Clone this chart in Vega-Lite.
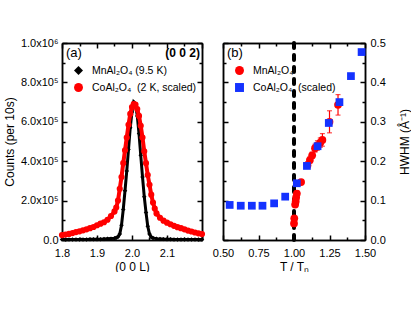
{
  "$schema": "https://vega.github.io/schema/vega-lite/v6.json",
  "padding": {"left": 3, "top": 37, "right": 0, "bottom": 0},
  "spacing": 2,
  "background": "white",
  "datasets": {
    "scan": [
      {"L":1.80,"I":2000,"s":"MnAl₂O₄ (9.5 K)"},{"L":1.81,"I":2000,"s":"MnAl₂O₄ (9.5 K)"},{"L":1.82,"I":2000,"s":"MnAl₂O₄ (9.5 K)"},{"L":1.83,"I":2500,"s":"MnAl₂O₄ (9.5 K)"},{"L":1.84,"I":2500,"s":"MnAl₂O₄ (9.5 K)"},{"L":1.85,"I":3000,"s":"MnAl₂O₄ (9.5 K)"},{"L":1.86,"I":3000,"s":"MnAl₂O₄ (9.5 K)"},{"L":1.87,"I":3000,"s":"MnAl₂O₄ (9.5 K)"},{"L":1.88,"I":3500,"s":"MnAl₂O₄ (9.5 K)"},{"L":1.89,"I":3500,"s":"MnAl₂O₄ (9.5 K)"},{"L":1.90,"I":4000,"s":"MnAl₂O₄ (9.5 K)"},{"L":1.91,"I":4000,"s":"MnAl₂O₄ (9.5 K)"},{"L":1.92,"I":5000,"s":"MnAl₂O₄ (9.5 K)"},{"L":1.93,"I":6000,"s":"MnAl₂O₄ (9.5 K)"},{"L":1.94,"I":7000,"s":"MnAl₂O₄ (9.5 K)"},{"L":1.95,"I":9000,"s":"MnAl₂O₄ (9.5 K)"},{"L":1.955,"I":11000,"s":"MnAl₂O₄ (9.5 K)"},{"L":1.96,"I":16000,"s":"MnAl₂O₄ (9.5 K)"},{"L":1.965,"I":30000,"s":"MnAl₂O₄ (9.5 K)"},{"L":1.97,"I":75000,"s":"MnAl₂O₄ (9.5 K)"},{"L":1.975,"I":155000,"s":"MnAl₂O₄ (9.5 K)"},{"L":1.98,"I":250000,"s":"MnAl₂O₄ (9.5 K)"},{"L":1.985,"I":350000,"s":"MnAl₂O₄ (9.5 K)"},{"L":1.99,"I":460000,"s":"MnAl₂O₄ (9.5 K)"},{"L":1.995,"I":570000,"s":"MnAl₂O₄ (9.5 K)"},{"L":2.00,"I":650000,"s":"MnAl₂O₄ (9.5 K)"},{"L":2.005,"I":700000,"s":"MnAl₂O₄ (9.5 K)"},{"L":2.01,"I":690000,"s":"MnAl₂O₄ (9.5 K)"},{"L":2.015,"I":630000,"s":"MnAl₂O₄ (9.5 K)"},{"L":2.02,"I":540000,"s":"MnAl₂O₄ (9.5 K)"},{"L":2.025,"I":430000,"s":"MnAl₂O₄ (9.5 K)"},{"L":2.03,"I":320000,"s":"MnAl₂O₄ (9.5 K)"},{"L":2.035,"I":220000,"s":"MnAl₂O₄ (9.5 K)"},{"L":2.04,"I":140000,"s":"MnAl₂O₄ (9.5 K)"},{"L":2.045,"I":70000,"s":"MnAl₂O₄ (9.5 K)"},{"L":2.05,"I":30000,"s":"MnAl₂O₄ (9.5 K)"},{"L":2.055,"I":15000,"s":"MnAl₂O₄ (9.5 K)"},{"L":2.06,"I":10000,"s":"MnAl₂O₄ (9.5 K)"},{"L":2.07,"I":7000,"s":"MnAl₂O₄ (9.5 K)"},{"L":2.08,"I":5500,"s":"MnAl₂O₄ (9.5 K)"},{"L":2.09,"I":4500,"s":"MnAl₂O₄ (9.5 K)"},{"L":2.10,"I":4000,"s":"MnAl₂O₄ (9.5 K)"},{"L":2.11,"I":3500,"s":"MnAl₂O₄ (9.5 K)"},{"L":2.12,"I":3000,"s":"MnAl₂O₄ (9.5 K)"},{"L":2.13,"I":3000,"s":"MnAl₂O₄ (9.5 K)"},{"L":2.14,"I":2500,"s":"MnAl₂O₄ (9.5 K)"},{"L":2.15,"I":2500,"s":"MnAl₂O₄ (9.5 K)"},{"L":2.16,"I":2500,"s":"MnAl₂O₄ (9.5 K)"},{"L":2.17,"I":2000,"s":"MnAl₂O₄ (9.5 K)"},{"L":2.18,"I":2000,"s":"MnAl₂O₄ (9.5 K)"},{"L":2.19,"I":2000,"s":"MnAl₂O₄ (9.5 K)"},{"L":2.20,"I":2000,"s":"MnAl₂O₄ (9.5 K)"},
      {"L":1.80,"I":25000,"s":"CoAl₂O₄\u00a0 (2 K, scaled)"},{"L":1.81,"I":28000,"s":"CoAl₂O₄\u00a0 (2 K, scaled)"},{"L":1.82,"I":31000,"s":"CoAl₂O₄\u00a0 (2 K, scaled)"},{"L":1.83,"I":35000,"s":"CoAl₂O₄\u00a0 (2 K, scaled)"},{"L":1.84,"I":40000,"s":"CoAl₂O₄\u00a0 (2 K, scaled)"},{"L":1.85,"I":44000,"s":"CoAl₂O₄\u00a0 (2 K, scaled)"},{"L":1.86,"I":49000,"s":"CoAl₂O₄\u00a0 (2 K, scaled)"},{"L":1.87,"I":54000,"s":"CoAl₂O₄\u00a0 (2 K, scaled)"},{"L":1.88,"I":60000,"s":"CoAl₂O₄\u00a0 (2 K, scaled)"},{"L":1.89,"I":66000,"s":"CoAl₂O₄\u00a0 (2 K, scaled)"},{"L":1.90,"I":75000,"s":"CoAl₂O₄\u00a0 (2 K, scaled)"},{"L":1.91,"I":83000,"s":"CoAl₂O₄\u00a0 (2 K, scaled)"},{"L":1.92,"I":90000,"s":"CoAl₂O₄\u00a0 (2 K, scaled)"},{"L":1.93,"I":103000,"s":"CoAl₂O₄\u00a0 (2 K, scaled)"},{"L":1.94,"I":122000,"s":"CoAl₂O₄\u00a0 (2 K, scaled)"},{"L":1.95,"I":145000,"s":"CoAl₂O₄\u00a0 (2 K, scaled)"},{"L":1.955,"I":165000,"s":"CoAl₂O₄\u00a0 (2 K, scaled)"},{"L":1.96,"I":200000,"s":"CoAl₂O₄\u00a0 (2 K, scaled)"},{"L":1.965,"I":260000,"s":"CoAl₂O₄\u00a0 (2 K, scaled)"},{"L":1.97,"I":320000,"s":"CoAl₂O₄\u00a0 (2 K, scaled)"},{"L":1.975,"I":390000,"s":"CoAl₂O₄\u00a0 (2 K, scaled)"},{"L":1.98,"I":455000,"s":"CoAl₂O₄\u00a0 (2 K, scaled)"},{"L":1.985,"I":520000,"s":"CoAl₂O₄\u00a0 (2 K, scaled)"},{"L":1.99,"I":585000,"s":"CoAl₂O₄\u00a0 (2 K, scaled)"},{"L":1.995,"I":640000,"s":"CoAl₂O₄\u00a0 (2 K, scaled)"},{"L":2.00,"I":675000,"s":"CoAl₂O₄\u00a0 (2 K, scaled)"},{"L":2.005,"I":690000,"s":"CoAl₂O₄\u00a0 (2 K, scaled)"},{"L":2.01,"I":688000,"s":"CoAl₂O₄\u00a0 (2 K, scaled)"},{"L":2.015,"I":665000,"s":"CoAl₂O₄\u00a0 (2 K, scaled)"},{"L":2.02,"I":630000,"s":"CoAl₂O₄\u00a0 (2 K, scaled)"},{"L":2.025,"I":580000,"s":"CoAl₂O₄\u00a0 (2 K, scaled)"},{"L":2.03,"I":520000,"s":"CoAl₂O₄\u00a0 (2 K, scaled)"},{"L":2.035,"I":450000,"s":"CoAl₂O₄\u00a0 (2 K, scaled)"},{"L":2.04,"I":390000,"s":"CoAl₂O₄\u00a0 (2 K, scaled)"},{"L":2.045,"I":330000,"s":"CoAl₂O₄\u00a0 (2 K, scaled)"},{"L":2.05,"I":280000,"s":"CoAl₂O₄\u00a0 (2 K, scaled)"},{"L":2.055,"I":230000,"s":"CoAl₂O₄\u00a0 (2 K, scaled)"},{"L":2.06,"I":190000,"s":"CoAl₂O₄\u00a0 (2 K, scaled)"},{"L":2.065,"I":160000,"s":"CoAl₂O₄\u00a0 (2 K, scaled)"},{"L":2.07,"I":135000,"s":"CoAl₂O₄\u00a0 (2 K, scaled)"},{"L":2.08,"I":113000,"s":"CoAl₂O₄\u00a0 (2 K, scaled)"},{"L":2.09,"I":98000,"s":"CoAl₂O₄\u00a0 (2 K, scaled)"},{"L":2.10,"I":88000,"s":"CoAl₂O₄\u00a0 (2 K, scaled)"},{"L":2.11,"I":80000,"s":"CoAl₂O₄\u00a0 (2 K, scaled)"},{"L":2.12,"I":72000,"s":"CoAl₂O₄\u00a0 (2 K, scaled)"},{"L":2.13,"I":65000,"s":"CoAl₂O₄\u00a0 (2 K, scaled)"},{"L":2.14,"I":60000,"s":"CoAl₂O₄\u00a0 (2 K, scaled)"},{"L":2.15,"I":54000,"s":"CoAl₂O₄\u00a0 (2 K, scaled)"},{"L":2.16,"I":48000,"s":"CoAl₂O₄\u00a0 (2 K, scaled)"},{"L":2.17,"I":43000,"s":"CoAl₂O₄\u00a0 (2 K, scaled)"},{"L":2.18,"I":38000,"s":"CoAl₂O₄\u00a0 (2 K, scaled)"},{"L":2.19,"I":34000,"s":"CoAl₂O₄\u00a0 (2 K, scaled)"},{"L":2.20,"I":30000,"s":"CoAl₂O₄\u00a0 (2 K, scaled)"}
    ],
    "hwhm": [
      {"T":1.000,"H":0.042,"lo":0.038,"hi":0.046,"s":"MnAl₂O₄"},
      {"T":1.002,"H":0.055,"lo":0.051,"hi":0.059,"s":"MnAl₂O₄"},
      {"T":1.008,"H":0.090,"lo":0.085,"hi":0.095,"s":"MnAl₂O₄"},
      {"T":1.012,"H":0.098,"lo":0.093,"hi":0.103,"s":"MnAl₂O₄"},
      {"T":1.015,"H":0.108,"lo":0.103,"hi":0.113,"s":"MnAl₂O₄"},
      {"T":1.020,"H":0.118,"lo":0.112,"hi":0.124,"s":"MnAl₂O₄"},
      {"T":1.050,"H":0.147,"lo":0.141,"hi":0.153,"s":"MnAl₂O₄"},
      {"T":1.095,"H":0.190,"lo":0.182,"hi":0.198,"s":"MnAl₂O₄"},
      {"T":1.112,"H":0.203,"lo":0.195,"hi":0.211,"s":"MnAl₂O₄"},
      {"T":1.128,"H":0.215,"lo":0.207,"hi":0.223,"s":"MnAl₂O₄"},
      {"T":1.148,"H":0.233,"lo":0.223,"hi":0.243,"s":"MnAl₂O₄"},
      {"T":1.165,"H":0.240,"lo":0.228,"hi":0.252,"s":"MnAl₂O₄"},
      {"T":1.185,"H":0.247,"lo":0.235,"hi":0.259,"s":"MnAl₂O₄"},
      {"T":1.200,"H":0.254,"lo":0.238,"hi":0.270,"s":"MnAl₂O₄"},
      {"T":1.250,"H":0.300,"lo":0.272,"hi":0.328,"s":"MnAl₂O₄"},
      {"T":1.310,"H":0.343,"lo":0.317,"hi":0.369,"s":"MnAl₂O₄"},
      {"T":0.547,"H":0.089,"s":"CoAl₂O₄\u00a0 (scaled)"},
      {"T":0.625,"H":0.087,"s":"CoAl₂O₄\u00a0 (scaled)"},
      {"T":0.703,"H":0.087,"s":"CoAl₂O₄\u00a0 (scaled)"},
      {"T":0.778,"H":0.087,"s":"CoAl₂O₄\u00a0 (scaled)"},
      {"T":0.860,"H":0.093,"s":"CoAl₂O₄\u00a0 (scaled)"},
      {"T":0.938,"H":0.110,"s":"CoAl₂O₄\u00a0 (scaled)"},
      {"T":1.020,"H":0.144,"s":"CoAl₂O₄\u00a0 (scaled)"},
      {"T":1.091,"H":0.188,"s":"CoAl₂O₄\u00a0 (scaled)"},
      {"T":1.166,"H":0.238,"s":"CoAl₂O₄\u00a0 (scaled)"},
      {"T":1.245,"H":0.297,"s":"CoAl₂O₄\u00a0 (scaled)"},
      {"T":1.320,"H":0.350,"s":"CoAl₂O₄\u00a0 (scaled)"},
      {"T":1.401,"H":0.416,"s":"CoAl₂O₄\u00a0 (scaled)"},
      {"T":1.476,"H":0.477,"s":"CoAl₂O₄\u00a0 (scaled)"}
    ]
  },
  "hconcat": [
    {
      "width": 140,
      "height": 197,
      "data": {"name": "scan"},
      "layer": [
        {
          "mark": {"type": "point", "opacity": 0},
          "encoding": {
            "x": {"field": "L", "type": "quantitative", "scale": {"domain": [1.8, 2.2], "nice": false, "zero": false},
                  "axis": {"orient": "bottom", "values": [1.8, 1.9, 2.0, 2.1, 2.2], "labelExpr": "datum.value > 2.15 ? '' : format(datum.value, '.1f')", "tickSize": -5, "labelPadding": 12, "title": "(0 0 L)", "titlePadding": 3}},
            "y": {"field": "I", "type": "quantitative", "scale": {"domain": [0, 1000000], "nice": false},
                  "axis": {"orient": "left", "values": [0, 200000, 400000, 600000, 800000, 1000000], "labelExpr": "datum.value == 0 ? '0.0' : (datum.value == 1000000 ? '1.0x10⁶' : format(datum.value / 100000, '.1f') + 'x10⁵')", "tickSize": -5, "labelPadding": 9, "title": "Counts (per 10s)", "titlePadding": 4}}
          }
        },
        {
          "mark": {"type": "point", "opacity": 0},
          "encoding": {
            "x": {"field": "L", "type": "quantitative", "axis": {"orient": "top", "values": [1.8, 1.9, 2.0, 2.1, 2.2], "labels": false, "tickSize": -5, "title": null}},
            "y": {"field": "I", "type": "quantitative", "axis": {"orient": "right", "values": [0, 200000, 400000, 600000, 800000, 1000000], "labels": false, "tickSize": -5, "title": null}}
          }
        },
        {
          "mark": {"type": "point", "opacity": 0},
          "encoding": {
            "x": {"field": "L", "type": "quantitative", "axis": {"orient": "bottom", "values": [1.85, 1.95, 2.05, 2.15], "labels": false, "tickSize": -3, "title": null}},
            "y": {"field": "I", "type": "quantitative", "axis": {"orient": "left", "values": [100000, 300000, 500000, 700000, 900000], "labels": false, "tickSize": -3, "title": null}}
          }
        },
        {
          "mark": {"type": "point", "opacity": 0},
          "encoding": {
            "x": {"field": "L", "type": "quantitative", "axis": {"orient": "top", "values": [1.85, 1.95, 2.05, 2.15], "labels": false, "tickSize": -3, "title": null}},
            "y": {"field": "I", "type": "quantitative", "axis": {"orient": "right", "values": [100000, 300000, 500000, 700000, 900000], "labels": false, "tickSize": -3, "title": null}}
          }
        },
        {
          "transform": [{"filter": "indexof(datum.s, 'Mn') == 0"}],
          "mark": {"type": "line", "color": "black", "strokeWidth": 3},
          "encoding": {
            "x": {"field": "L", "type": "quantitative", "axis": null},
            "y": {"field": "I", "type": "quantitative", "axis": null}
          }
        },
        {
          "transform": [{"filter": "indexof(datum.s, 'Mn') == 0"}],
          "mark": {"type": "point", "filled": true, "size": 20, "opacity": 1},
          "encoding": {
            "x": {"field": "L", "type": "quantitative", "axis": null},
            "y": {"field": "I", "type": "quantitative", "axis": null},
            "color": {"field": "s", "type": "nominal", "scale": {"domain": ["MnAl₂O₄ (9.5 K)", "CoAl₂O₄\u00a0 (2 K, scaled)"], "range": ["black", "#ff0000"]}, "legend": {"title": "(a)", "zindex": 2}},
            "shape": {"field": "s", "type": "nominal", "scale": {"domain": ["MnAl₂O₄ (9.5 K)", "CoAl₂O₄\u00a0 (2 K, scaled)"], "range": ["diamond", "circle"]}, "legend": {"title": "(a)", "zindex": 2}}
          }
        },
        {
          "transform": [{"filter": "indexof(datum.s, 'Co') == 0"}],
          "mark": {"type": "line", "color": "#ff0000", "strokeWidth": 4},
          "encoding": {
            "x": {"field": "L", "type": "quantitative", "axis": null},
            "y": {"field": "I", "type": "quantitative", "axis": null}
          }
        },
        {
          "transform": [{"filter": "indexof(datum.s, 'Co') == 0"}],
          "mark": {"type": "point", "filled": true, "size": 38, "opacity": 1},
          "encoding": {
            "x": {"field": "L", "type": "quantitative", "axis": null},
            "y": {"field": "I", "type": "quantitative", "axis": null},
            "color": {"field": "s", "type": "nominal", "legend": {"title": "(a)", "zindex": 2}},
            "shape": {"field": "s", "type": "nominal", "legend": {"title": "(a)", "zindex": 2}}
          }
        },
        {
          "data": {"values": [{"label": "(0 0 2)", "L": 2.2, "I": 1000000}]},
          "mark": {"type": "text", "align": "right", "baseline": "top", "dx": -2, "dy": 5, "fontSize": 12, "fontWeight": "bold", "color": "black"},
          "encoding": {
            "x": {"field": "L", "type": "quantitative", "axis": null},
            "y": {"field": "I", "type": "quantitative", "axis": null},
            "text": {"field": "label"}
          }
        }
      ],
      "resolve": {"axis": {"x": "independent", "y": "independent"}}
    },
    {
      "width": 142,
      "height": 197,
      "data": {"name": "hwhm"},
      "layer": [
        {
          "mark": {"type": "point", "opacity": 0},
          "encoding": {
            "x": {"field": "T", "type": "quantitative", "scale": {"domain": [0.5, 1.5], "nice": false, "zero": false},
                  "axis": {"orient": "bottom", "values": [0.5, 0.75, 1.0, 1.25, 1.5], "format": ".2f", "tickSize": -5, "labelPadding": 12, "title": "T / Tₙ", "titlePadding": 3}},
            "y": {"field": "H", "type": "quantitative", "scale": {"domain": [0, 0.5], "nice": false},
                  "axis": {"orient": "right", "values": [0, 0.1, 0.2, 0.3, 0.4, 0.5], "format": ".1f", "tickSize": -5, "labelPadding": 10, "title": "HWHM (Å⁻¹)", "titleAngle": 270, "titleBaseline": "top", "titlePadding": 14}}
          }
        },
        {
          "mark": {"type": "point", "opacity": 0},
          "encoding": {
            "x": {"field": "T", "type": "quantitative", "axis": {"orient": "top", "values": [0.5, 0.75, 1.0, 1.25, 1.5], "labels": false, "tickSize": -5, "title": null}},
            "y": {"field": "H", "type": "quantitative", "axis": {"orient": "left", "values": [0, 0.1, 0.2, 0.3, 0.4, 0.5], "labels": false, "tickSize": -5, "title": null}}
          }
        },
        {
          "mark": {"type": "point", "opacity": 0},
          "encoding": {
            "x": {"field": "T", "type": "quantitative", "axis": {"orient": "bottom", "values": [0.625, 0.875, 1.125, 1.375], "labels": false, "tickSize": -3, "title": null}},
            "y": {"field": "H", "type": "quantitative", "axis": {"orient": "left", "values": [0.05, 0.15, 0.25, 0.35, 0.45], "labels": false, "tickSize": -3, "title": null}}
          }
        },
        {
          "mark": {"type": "point", "opacity": 0},
          "encoding": {
            "x": {"field": "T", "type": "quantitative", "axis": {"orient": "top", "values": [0.625, 0.875, 1.125, 1.375], "labels": false, "tickSize": -3, "title": null}},
            "y": {"field": "H", "type": "quantitative", "axis": {"orient": "right", "values": [0.05, 0.15, 0.25, 0.35, 0.45], "labels": false, "tickSize": -3, "title": null}}
          }
        },
        {
          "data": {"values": [{"T": 1.0}]},
          "mark": {"type": "rule", "color": "black", "strokeWidth": 4, "strokeDash": [5, 7], "strokeCap": "round"},
          "encoding": {
            "x": {"field": "T", "type": "quantitative", "axis": null}
          }
        },
        {
          "transform": [{"filter": "indexof(datum.s, 'Mn') == 0"}],
          "mark": {"type": "errorbar", "ticks": true, "color": "#ff0000", "thickness": 1.2},
          "encoding": {
            "x": {"field": "T", "type": "quantitative", "axis": null},
            "y": {"field": "lo", "type": "quantitative", "axis": null},
            "y2": {"field": "hi"}
          }
        },
        {
          "transform": [{"filter": "indexof(datum.s, 'Mn') == 0"}],
          "mark": {"type": "point", "filled": true, "size": 60, "opacity": 1},
          "encoding": {
            "x": {"field": "T", "type": "quantitative", "axis": null},
            "y": {"field": "H", "type": "quantitative", "axis": null},
            "color": {"field": "s", "type": "nominal", "scale": {"domain": ["MnAl₂O₄", "CoAl₂O₄\u00a0 (scaled)"], "range": ["#ff0000", "#1432ff"]}, "legend": {"title": "(b)", "zindex": 2}},
            "shape": {"field": "s", "type": "nominal", "scale": {"domain": ["MnAl₂O₄", "CoAl₂O₄\u00a0 (scaled)"], "range": ["circle", "square"]}, "legend": {"title": "(b)", "zindex": 2}}
          }
        },
        {
          "transform": [{"filter": "indexof(datum.s, 'Co') == 0"}],
          "mark": {"type": "point", "filled": true, "size": 60, "opacity": 1},
          "encoding": {
            "x": {"field": "T", "type": "quantitative", "axis": null},
            "y": {"field": "H", "type": "quantitative", "axis": null},
            "color": {"field": "s", "type": "nominal", "legend": {"title": "(b)", "zindex": 2}},
            "shape": {"field": "s", "type": "nominal", "legend": {"title": "(b)", "zindex": 2}}
          }
        }
      ],
      "resolve": {"axis": {"x": "independent", "y": "independent"}}
    }
  ],
  "resolve": {"scale": {"color": "independent", "shape": "independent"}, "legend": {"color": "independent", "shape": "independent"}},
  "config": {
    "font": "Liberation Sans",
    "view": {"stroke": null},
    "axis": {
      "grid": false,
      "labelFlush": false,
      "domainColor": "black",
      "domainWidth": 1.5,
      "tickColor": "black",
      "tickWidth": 1.5,
      "labelColor": "black",
      "labelFontSize": 11,
      "labelFont": "Liberation Sans",
      "titleFont": "Liberation Sans",
      "titleFontSize": 12,
      "titleFontWeight": "normal",
      "titleColor": "black"
    },
    "legend": {
      "orient": "top-left",
      "offset": 4,
      "padding": 0,
      "titleFont": "Liberation Sans",
      "titleFontSize": 13,
      "titleFontWeight": "normal",
      "titleColor": "black",
      "titlePadding": 5,
      "labelFont": "Liberation Sans",
      "labelFontSize": 10.5,
      "labelColor": "black",
      "symbolSize": 80,
      "rowPadding": 6,
      "labelOffset": 8,
      "symbolOffset": 7
    }
  }
}
